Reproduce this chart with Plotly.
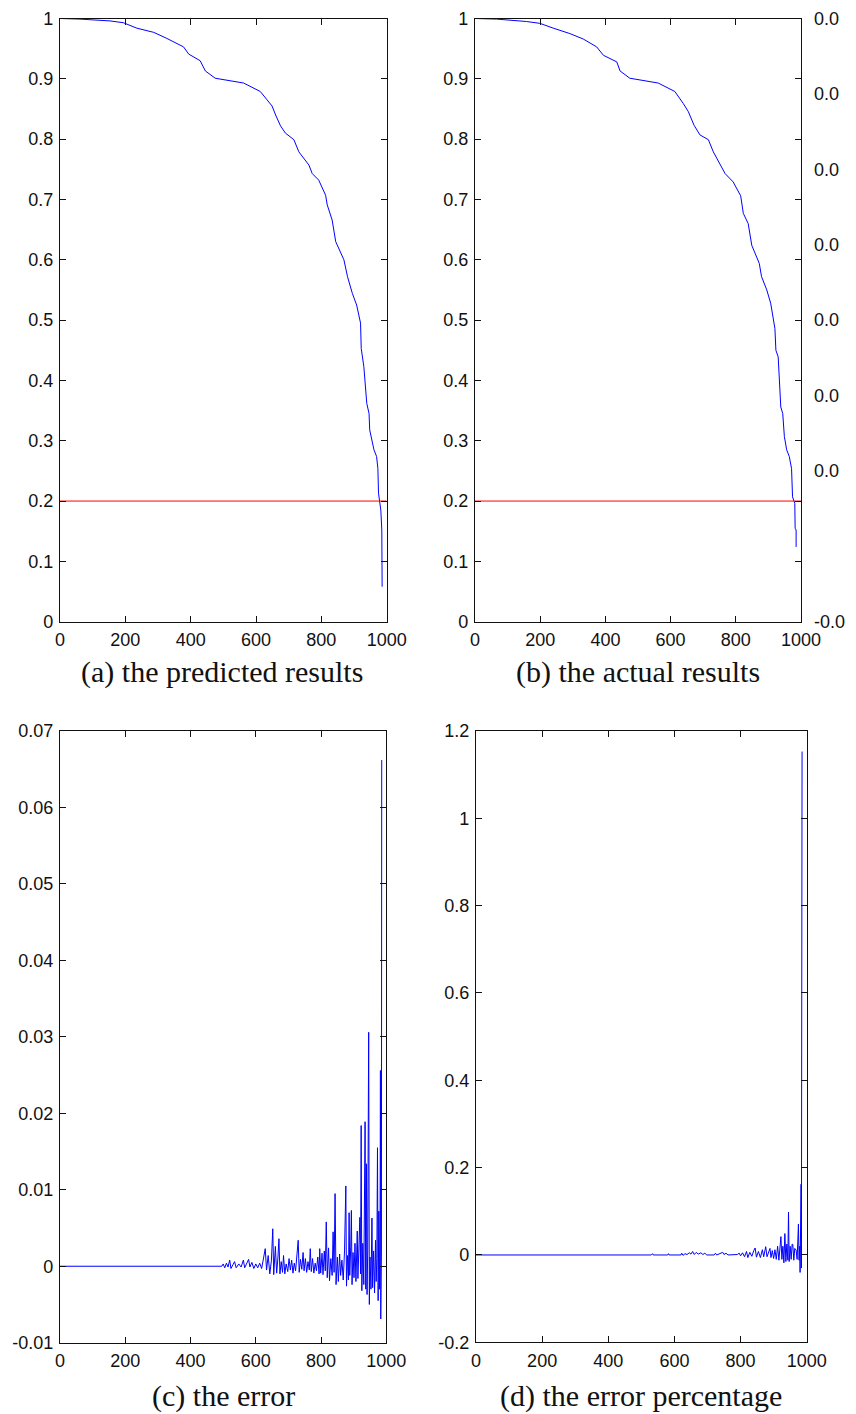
import plotly.graph_objects as go

# ---------------- data ----------------
pred_x = [0, 61, 153, 194, 235, 287, 327, 378, 394, 429, 445, 475, 562, 613, 634, 649, 660, 675, 690, 716,
          731, 762, 772, 792, 813, 818, 833, 844, 869, 880, 895, 908, 920, 922, 930, 939, 946, 948, 961, 969,
          973, 975, 982, 985, 986]
pred_y = [1.0, 0.999, 0.996, 0.993, 0.984, 0.977, 0.967, 0.953, 0.941, 0.930, 0.913, 0.901, 0.893, 0.879, 0.865,
          0.855, 0.840, 0.822, 0.810, 0.799, 0.779, 0.757, 0.743, 0.732, 0.707, 0.691, 0.666, 0.630, 0.600, 0.572,
          0.544, 0.525, 0.495, 0.453, 0.423, 0.362, 0.345, 0.318, 0.285, 0.274, 0.254, 0.213, 0.185, 0.152, 0.058]

act_x = [0, 66, 158, 199, 240, 291, 332, 373, 394, 435, 445, 475, 562, 613, 639, 654, 672, 690, 716, 731,
         767, 792, 815, 823, 838, 849, 872, 879, 895, 907, 920, 923, 930, 938, 944, 949, 956, 964, 971, 974,
         981, 982, 985, 985]
act_y = [1.0, 0.999, 0.995, 0.992, 0.984, 0.975, 0.966, 0.953, 0.939, 0.928, 0.913, 0.901, 0.893, 0.879, 0.859,
         0.846, 0.823, 0.807, 0.799, 0.779, 0.743, 0.729, 0.706, 0.677, 0.660, 0.624, 0.594, 0.572, 0.550, 0.528,
         0.486, 0.450, 0.439, 0.356, 0.345, 0.307, 0.285, 0.274, 0.254, 0.207, 0.196, 0.155, 0.152, 0.124]

threshold_x = [0, 1000]
threshold_y = [0.2, 0.2]

err_x = [0, 496, 500, 505, 510, 515, 520, 524, 530, 535, 540, 548, 555, 562, 566, 572, 578, 582, 588, 594,
         600, 606, 612, 618, 624, 629, 633, 638, 643, 648, 652, 655, 660, 664, 668, 671, 674, 678, 682, 685,
         689, 693, 698, 702, 706, 710, 714, 718, 722, 726, 730, 733, 737, 741, 745, 748, 752, 756, 760, 764,
         767, 770, 774, 778, 782, 786, 790, 794, 796, 799, 803, 806, 810, 813, 816, 819, 823, 826, 830, 834,
         837, 840, 843, 846, 850, 853, 857, 860, 864, 868, 872, 876, 878, 881, 884, 886, 888, 891, 893, 895,
         898, 901, 904, 907, 909, 911, 913, 916, 919, 921, 923, 925, 928, 931, 933, 935, 937, 939, 941, 943,
         946, 948, 950, 953, 956, 958, 961, 964, 967, 969, 971, 973, 975, 977, 979, 981, 982, 983, 985, 986]
err_y = [0, 0, 0.0003, -0.0002, 0.0004, -0.0001, 0.0008, -0.0003, 0.0002, 0.0006, -0.0002, 0.0003, -0.0001,
         0.0008, -0.0002, 0.0004, 0.0009, -0.0001, 0.0005, -0.0003, 0.0003, -0.0002, 0.0004, -0.0003, 0.0012,
         0.0023, -0.0005, 0.0014, -0.0010, 0.0008, 0.0049, -0.0011, 0.0026, -0.0009, 0.0012, 0.0036, -0.0010,
         0.0006, -0.0008, 0.0014, -0.0010, 0.0003, -0.0007, 0.0010, -0.0005, 0.0008, -0.0009, 0.0004, -0.0006,
         0.0012, 0.0034, -0.0008, 0.0009, -0.0004, 0.0018, -0.0006, 0.0010, -0.0008, 0.0006, -0.0005, 0.0023,
         -0.0007, 0.0010, -0.0009, 0.0004, -0.0006, 0.0012, -0.0010, 0.0023, -0.0009, 0.0017, -0.0011, 0.0020,
         -0.0006, 0.0058, -0.0015, 0.0024, -0.0019, 0.0010, -0.0012, 0.0045, -0.0008, 0.0095, -0.0024, 0.0012,
         -0.0020, 0.0016, -0.0012, 0.0008, -0.0018, 0.0020, 0.0105, -0.0026, 0.0014, -0.0018, 0.0070, -0.0012,
         0.0025, 0.0073, -0.0024, 0.0018, -0.0015, 0.0030, -0.0020, 0.0022, 0.0046, -0.0016, 0.0040, 0.0064,
         -0.0010, 0.0184, -0.0032, 0.0030, -0.0024, 0.0050, 0.0189, -0.0030, 0.0134, -0.0037, 0.0020, 0.0306,
         -0.0050, 0.0012, -0.0030, 0.0063, -0.0028, 0.0020, -0.0035, 0.0034, -0.0020, 0.0010, 0.0155, -0.0045,
         0.0072, -0.0030, 0.0073, 0.0256, -0.0069, 0.0020, 0.0662]

pct_x = [0, 530, 534, 536, 580, 582, 584, 620, 622, 626, 632, 638, 645, 650, 655, 660, 666, 672, 680, 686,
         692, 698, 720, 724, 728, 740, 746, 750, 756, 762, 790, 796, 800, 806, 812, 818, 822, 828, 834, 840,
         844, 848, 854, 860, 866, 870, 876, 880, 885, 889, 892, 896, 900, 904, 908, 912, 916, 920, 922, 925,
         928, 931, 934, 937, 940, 943, 945, 947, 950, 953, 956, 958, 961, 964, 968, 971, 973, 975, 977, 979,
         980, 982, 983, 984, 986]
pct_y = [0, 0, 0.003, 0, 0, 0.003, 0, 0, 0.004, -0.001, 0.003, 0.001, 0.005, 0.002, 0.008, 0.001, 0.006,
         0.002, 0.005, 0.001, 0.004, 0, 0, 0.004, 0, 0.003, 0.006, 0.001, 0.004, 0, 0.001, 0.004, -0.002,
         0.005, -0.004, 0.008, -0.006, 0.006, -0.003, 0.010, 0.016, -0.005, 0.008, -0.006, 0.012, -0.004,
         0.019, -0.004, 0.010, 0.015, -0.006, 0.010, -0.008, 0.012, -0.010, 0.020, -0.012, 0.030, 0.042,
         -0.010, 0.020, -0.018, 0.049, -0.015, 0.025, -0.012, 0.098, -0.015, 0.020, -0.010, 0.025, 0.024,
         -0.012, 0.015, 0.011, -0.010, 0.030, 0.071, -0.012, 0.020, -0.040, 0.100, 0.162, -0.030, 1.153]

x_ticks = [0, 200, 400, 600, 800, 1000]
ab_y_ticks = [0, 0.1, 0.2, 0.3, 0.4, 0.5, 0.6, 0.7, 0.8, 0.9, 1]
ab_y_labels = ["0", "0.1", "0.2", "0.3", "0.4", "0.5", "0.6", "0.7", "0.8", "0.9", "1"]
c_y_ticks = [-0.01, 0, 0.01, 0.02, 0.03, 0.04, 0.05, 0.06, 0.07]
c_y_labels = ["-0.01", "0", "0.01", "0.02", "0.03", "0.04", "0.05", "0.06", "0.07"]
d_y_ticks = [-0.2, 0, 0.2, 0.4, 0.6, 0.8, 1, 1.2]
d_y_labels = ["-0.2", "0", "0.2", "0.4", "0.6", "0.8", "1", "1.2"]
b_right_ticks = [0.07, 0.06, 0.05, 0.04, 0.03, 0.02, 0.01, -0.01]
b_right_labels = ["0.0", "0.0", "0.0", "0.0", "0.0", "0.0", "0.0", "-0.0"]

captions = ["(a) the predicted results", "(b) the actual results", "(c) the error", "(d) the error percentage"]

# ---------------- figure ----------------
W, H = 856, 1414
BLUE = "#0000ff"
RED = "#ff0000"
tickfont = dict(family="Liberation Sans, Arial, sans-serif", size=18, color="#111111")

fig = go.Figure()
fig.add_trace(go.Scatter(x=pred_x, y=pred_y, mode="lines", line=dict(color=BLUE, width=1), xaxis="x", yaxis="y"))
fig.add_trace(go.Scatter(x=threshold_x, y=threshold_y, mode="lines", line=dict(color=RED, width=1), xaxis="x", yaxis="y"))
fig.add_trace(go.Scatter(x=act_x, y=act_y, mode="lines", line=dict(color=BLUE, width=1), xaxis="x2", yaxis="y2"))
fig.add_trace(go.Scatter(x=threshold_x, y=threshold_y, mode="lines", line=dict(color=RED, width=1), xaxis="x2", yaxis="y2"))
fig.add_trace(go.Scatter(x=err_x, y=err_y, mode="lines", line=dict(color=BLUE, width=1), xaxis="x3", yaxis="y3"))
fig.add_trace(go.Scatter(x=pct_x, y=pct_y, mode="lines", line=dict(color=BLUE, width=1), xaxis="x4", yaxis="y4"))


def px_x(p):
    return p / W


def px_y(p):
    return 1 - p / H


common = dict(showgrid=False, zeroline=False, showline=True, linecolor="#111111", linewidth=1.3,
              ticks="inside", ticklen=6, tickwidth=1, tickcolor="#111111", mirror="ticks",
              tickfont=tickfont, fixedrange=True, automargin=False)

panels = {
    "": dict(x=(60, 386.7), y=(18.5, 621.7), yr=[0, 1], yt=(ab_y_ticks, ab_y_labels)),
    "2": dict(x=(475, 801), y=(18.5, 621.7), yr=[0, 1], yt=(ab_y_ticks, ab_y_labels)),
    "3": dict(x=(60, 386.3), y=(731, 1342.7), yr=[-0.01, 0.07], yt=(c_y_ticks, c_y_labels)),
    "4": dict(x=(476, 806.7), y=(731, 1342.3), yr=[-0.2, 1.2], yt=(d_y_ticks, d_y_labels)),
}

layout = dict(width=W, height=H, margin=dict(l=0, r=0, t=0, b=0, pad=0, autoexpand=False), showlegend=False,
              paper_bgcolor="white", plot_bgcolor="white")
for k, p in panels.items():
    layout["xaxis" + k] = dict(common, domain=[px_x(p["x"][0]), px_x(p["x"][1])], range=[0, 1000],
                               tickvals=x_ticks, ticktext=[str(v) for v in x_ticks],
                               anchor="y" + k, ticklabelstandoff=2)
    layout["yaxis" + k] = dict(common, domain=[px_y(p["y"][1]), px_y(p["y"][0])], range=p["yr"],
                               tickvals=p["yt"][0], ticktext=p["yt"][1], anchor="x" + k,
                               ticklabelstandoff=2)

layout["yaxis5"] = dict(overlaying="y2", side="right", anchor="x2", range=[-0.01, 0.07],
                        tickvals=b_right_ticks, ticktext=b_right_labels, showgrid=False, zeroline=False,
                        showline=False, ticks="", tickfont=tickfont, ticklabelstandoff=12, fixedrange=True,
                        automargin=False)
fig.add_trace(go.Scatter(x=[], y=[], xaxis="x2", yaxis="y5", mode="lines"))

cap_pos = [(222.5, 672), (637.5, 672), (224, 1396), (641, 1396)]
annotations = []
for text, (cx, cy) in zip(captions, cap_pos):
    annotations.append(dict(text=text, x=px_x(cx), y=px_y(cy), xref="paper", yref="paper",
                            showarrow=False, xanchor="center", yanchor="middle",
                            font=dict(family="Liberation Serif, Times New Roman, serif", size=30, color="#111111")))
layout["annotations"] = annotations

fig.update_layout(**layout)
fig.write_html("out.html", config={"displayModeBar": False},
               post_script="document.body.style.margin='0';document.body.style.overflow='hidden';")
